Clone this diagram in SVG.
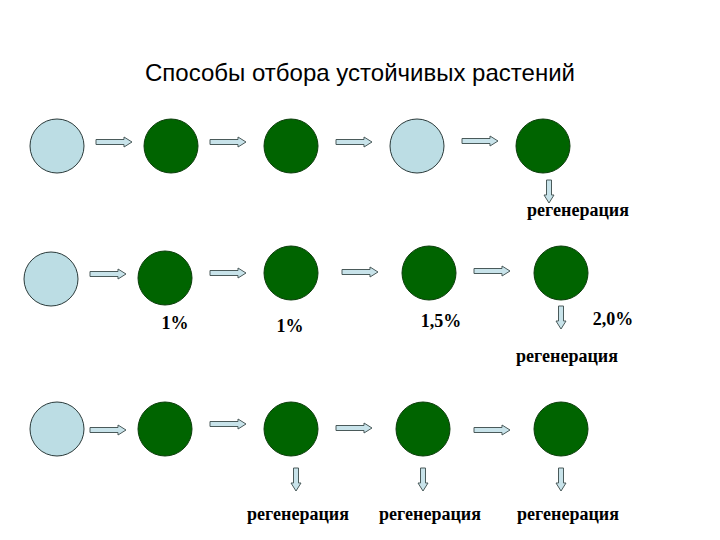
<svg xmlns="http://www.w3.org/2000/svg" xmlns:xlink="http://www.w3.org/1999/xlink" width="720" height="540" viewBox="0 0 720 540">
<style>
.light{fill:#bcdde4;stroke:#2a3a3a;stroke-width:1}
.green{fill:#006400;stroke:#0b3d0b;stroke-width:1}
.arr{fill:#c8e3ea;stroke:#4a5a5a;stroke-width:1}
.title{font-family:"Liberation Sans",Arial,sans-serif;font-size:24px;fill:#000}
.lbl{font-family:"Liberation Serif","Times New Roman",serif;font-size:18px;font-weight:bold;fill:#000;text-anchor:middle}
</style>
<defs>
<path id="ra" class="arr" d="M0,-2.5 H28 V-5 L36,0 L28,5 V2.5 H0 Z"/>
<path id="da" class="arr" d="M-2.5,0 V15 H-5 L0,23 L5,15 H2.5 V0 Z"/>
</defs>
<rect width="720" height="540" fill="#fff"/>
<text class="title" x="145" y="81" textLength="430">Способы отбора устойчивых растений</text>

<g id="connectors">
<use xlink:href="#ra" x="96" y="142"/>
<use xlink:href="#ra" x="210" y="142"/>
<use xlink:href="#ra" x="336" y="142"/>
<use xlink:href="#ra" x="462" y="141"/>
<use xlink:href="#da" x="549" y="180"/>
<use xlink:href="#ra" x="90" y="274"/>
<use xlink:href="#ra" x="210" y="273"/>
<use xlink:href="#ra" x="342" y="272"/>
<use xlink:href="#ra" x="474" y="271"/>
<use xlink:href="#da" x="561" y="306"/>
<use xlink:href="#ra" x="90" y="430"/>
<use xlink:href="#ra" x="210" y="424"/>
<use xlink:href="#ra" x="336" y="428"/>
<use xlink:href="#ra" x="474" y="430"/>
<use xlink:href="#da" x="296" y="468"/>
<use xlink:href="#da" x="423" y="468"/>
<use xlink:href="#da" x="561" y="468"/>
</g>

<g id="r1n1"><circle class="light" cx="57" cy="146" r="27"/></g>
<g id="r1n2"><circle class="green" cx="171" cy="146" r="27"/></g>
<g id="r1n3"><circle class="green" cx="291" cy="146" r="27"/></g>
<g id="r1n4"><circle class="light" cx="417" cy="146" r="27"/></g>
<g id="r1n5"><circle class="green" cx="543" cy="146" r="27"/></g>
<g id="r1t"><text class="lbl" x="578" y="216">регенерация</text></g>

<g id="r2n1"><circle class="light" cx="51" cy="279" r="27"/></g>
<g id="r2n2"><circle class="green" cx="165" cy="278" r="27"/><text class="lbl" x="175" y="329">1%</text></g>
<g id="r2n3"><circle class="green" cx="291" cy="273" r="27"/><text class="lbl" x="290" y="332">1%</text></g>
<g id="r2n4"><circle class="green" cx="429" cy="273" r="27"/><text class="lbl" x="441" y="327">1,5%</text></g>
<g id="r2n5"><circle class="green" cx="561" cy="273" r="27"/><text class="lbl" x="613" y="325">2,0%</text></g>
<g id="r2t"><text class="lbl" x="567" y="362">регенерация</text></g>

<g id="r3n1"><circle class="light" cx="57" cy="429" r="27"/></g>
<g id="r3n2"><circle class="green" cx="165" cy="429" r="27"/></g>
<g id="r3n3"><circle class="green" cx="291" cy="429" r="27"/><text class="lbl" x="298" y="520">регенерация</text></g>
<g id="r3n4"><circle class="green" cx="423" cy="429" r="27"/><text class="lbl" x="430" y="520">регенерация</text></g>
<g id="r3n5"><circle class="green" cx="561" cy="429" r="27"/><text class="lbl" x="568" y="520">регенерация</text></g>
</svg>
